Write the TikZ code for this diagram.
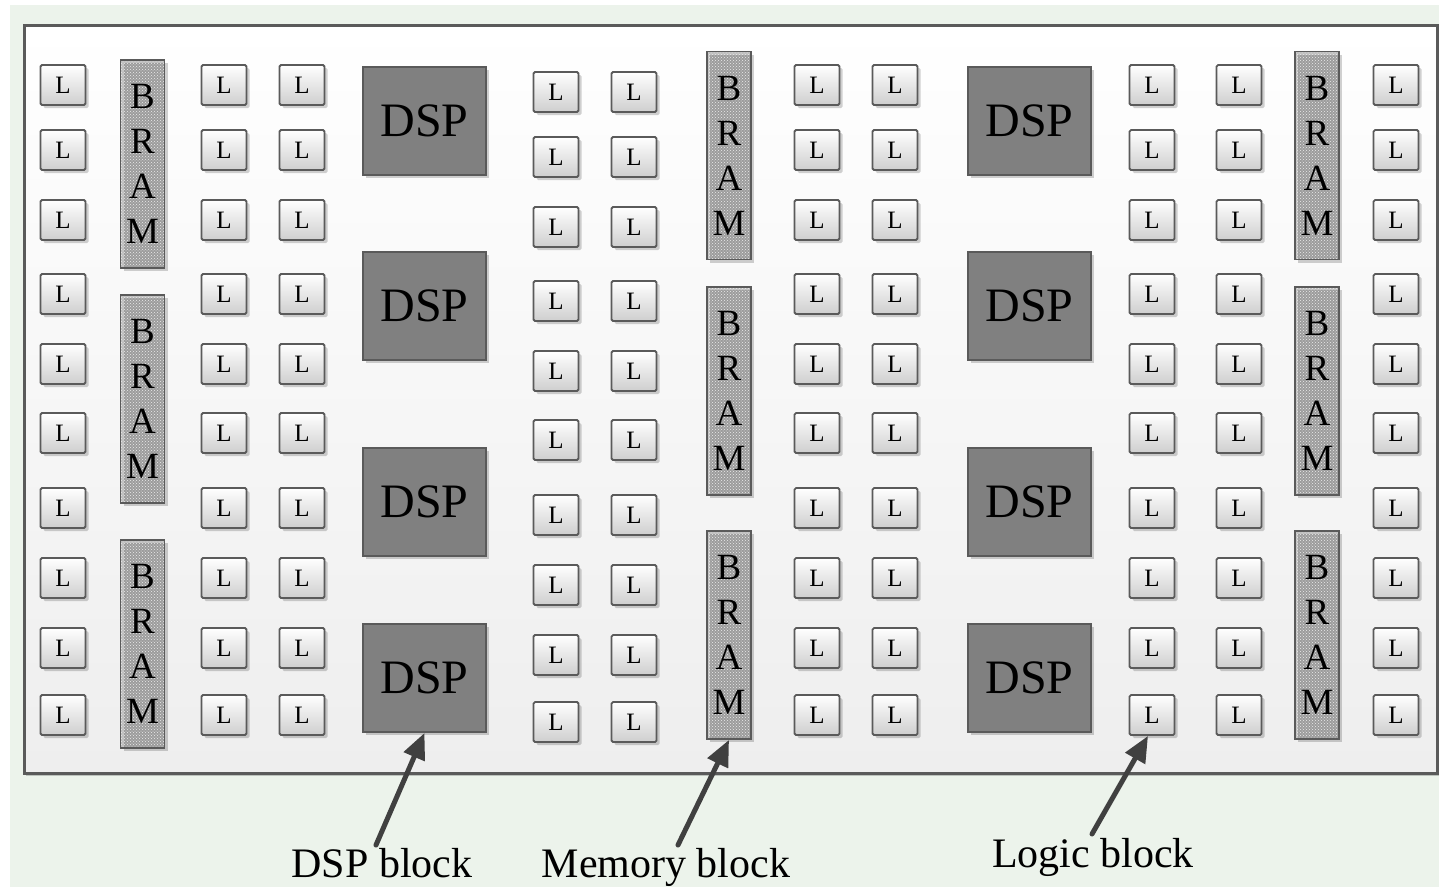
\documentclass[tikz,border=0pt]{standalone}
\usepackage{fontspec}
\setmainfont{Liberation Serif}
\usetikzlibrary{shadows,patterns,arrows.meta}
\definecolor{bggreen}{HTML}{ECF3EB}
\definecolor{edgec}{HTML}{5A5A5A}
\definecolor{dspfill}{HTML}{808080}
\definecolor{arrowc}{HTML}{404040}
\definecolor{panelbot}{HTML}{EEEEEE}
\begin{document}
\begin{tikzpicture}[x=1pt,y=-1pt,
  softshadow/.style={drop shadow={shadow xshift=3pt,shadow yshift=-3pt,opacity=0.18,fill=black}},
  lblock/.style={draw=edgec, line width=1.8pt, rounded corners=1.5pt, top color=white, bottom color=gray!38,
    minimum width=45pt, minimum height=40pt, inner sep=0pt, font=\fontsize{25}{25}\selectfont, softshadow},
  bramblock/.style={draw=edgec, line width=1.8pt, preaction={fill=gray!50}, pattern=crosshatch dots, pattern color=gray!15,
    minimum width=44pt, minimum height=208pt, inner sep=0pt, align=center, font=\fontsize{37}{45}\selectfont, softshadow},
  dspblock/.style={draw=edgec, line width=1.8pt, fill=dspfill, minimum width=123pt, minimum height=108pt,
    inner sep=0pt, font=\fontsize{48}{48}\selectfont, softshadow},
  lab/.style={anchor=base, inner sep=0pt, font=\fontsize{42}{42}\selectfont},
  pointer/.style={draw=arrowc, line width=5pt, line cap=round, -{Triangle[length=26pt,width=22pt]}}
]
\useasboundingbox (0,0) rectangle (1439,887);
\fill[white] (0,0) rectangle (1439,887);
\fill[bggreen] (10,5) rectangle (1439,887);
% panel
\path[draw=edgec, line width=3pt, top color=white, bottom color=panelbot,
  drop shadow={shadow xshift=2pt,shadow yshift=-3pt,opacity=0.2,fill=black}] (24,25) rectangle (1437,773);
% logic blocks
\foreach \x [count=\i] in {63,224,302,817,895,1152,1239,1396}{
  \foreach \y [count=\j] in {85,150,220,294,364,433,508,578,648,715}{
    \node[lblock] (L-\i-\j) at (\x,\y) {L};
  }
}
\foreach \x [count=\i] in {556,634}{
  \foreach \y [count=\j] in {92,157,227,301,371,440,515,585,655,722}{
    \node[lblock] (M-\i-\j) at (\x,\y) {L};
  }
}
% BRAM blocks
\foreach \y [count=\j] in {164,399,644}{
  \node[bramblock] (bram-1-\j) at (142.5,\y) {B\\R\\A\\M};
}
\foreach \x [count=\i from 2] in {729,1317}{
  \foreach \y [count=\j] in {155.5,391,635}{
    \node[bramblock] (bram-\i-\j) at (\x,\y) {B\\R\\A\\M};
  }
}
% DSP blocks
\foreach \x [count=\i] in {424.5,1029.5}{
  \foreach \y [count=\j] in {121,306,502,678}{
    \node[dspblock] (dsp-\i-\j) at (\x,\y) {DSP};
  }
}
% labels
\node[lab] (lab-dsp) at (382,877) {DSP block};
\node[lab] (lab-mem) at (666,877) {Memory block};
\node[lab] (lab-log) at (1093,867) {Logic block};
% pointers
\coordinate (p-dsp) at (376,845);
\coordinate (p-mem) at (678,845);
\coordinate (p-log) at (1092,834);
\draw[pointer] (p-dsp) -- (dsp-1-4.south);
\draw[pointer] (p-mem) -- (bram-2-3.south);
\draw[pointer] (p-log) -- ([xshift=-4pt]L-6-10.south);
\end{tikzpicture}
\end{document}
